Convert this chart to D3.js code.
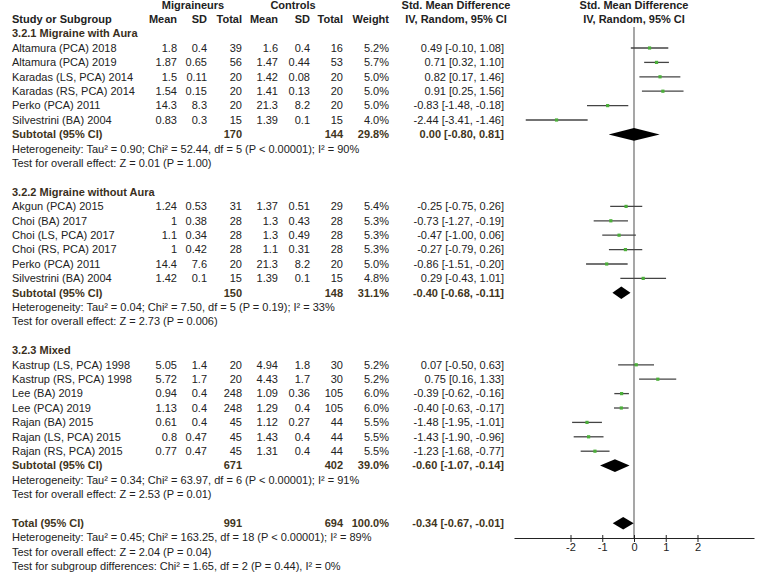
<!DOCTYPE html>
<html>
<head>
<meta charset="utf-8">
<script src="https://cdn.jsdelivr.net/npm/d3@7"></script>
<style>
html,body{margin:0;padding:0;background:#fff;}
svg text{font-family:"Liberation Sans",Arial,sans-serif;font-size:11px;fill:#222;}
</style>
</head>
<body>
<svg id="chart" width="760" height="575"></svg>
<script>
// ---------- DATA ----------
const studyNames = [
  "Altamura (PCA) 2018","Altamura (PCA) 2019","Karadas (LS, PCA) 2014","Karadas (RS, PCA) 2014","Perko (PCA) 2011","Silvestrini (BA) 2004",
  "Akgun (PCA) 2015","Choi (BA) 2017","Choi (LS, PCA) 2017","Choi (RS, PCA) 2017","Perko (PCA) 2011","Silvestrini (BA) 2004",
  "Kastrup (LS, PCA) 1998","Kastrup (RS, PCA) 1998","Lee (BA) 2019","Lee (PCA) 2019","Rajan (BA) 2015","Rajan (LS, PCA) 2015","Rajan (RS, PCA) 2015"
];
const studyGroup = [0,0,0,0,0,0, 1,1,1,1,1,1, 2,2,2,2,2,2,2];
const migMean = ["1.8","1.87","1.5","1.54","14.3","0.83", "1.24","1","1.1","1","14.4","1.42", "5.05","5.72","0.94","1.13","0.61","0.8","0.77"];
const migSD   = ["0.4","0.65","0.11","0.15","8.3","0.3", "0.53","0.38","0.34","0.42","7.6","0.1", "1.4","1.7","0.4","0.4","0.4","0.47","0.47"];
const migN    = [39,56,20,20,20,15, 31,28,28,28,20,15, 20,20,248,248,45,45,45];
const conMean = ["1.6","1.47","1.42","1.41","21.3","1.39", "1.37","1.3","1.3","1.1","21.3","1.39", "4.94","4.43","1.09","1.29","1.12","1.43","1.31"];
const conSD   = ["0.4","0.44","0.08","0.13","8.2","0.1", "0.51","0.43","0.49","0.31","8.2","0.1", "1.8","1.7","0.36","0.4","0.27","0.4","0.4"];
const conN    = [16,53,20,20,20,15, 29,28,28,28,20,15, 30,30,105,105,44,44,44];
const weights = ["5.2%","5.7%","5.0%","5.0%","5.0%","4.0%", "5.4%","5.3%","5.3%","5.3%","5.0%","4.8%", "5.2%","5.2%","6.0%","6.0%","5.5%","5.5%","5.5%"];
const smd     = [0.49,0.71,0.82,0.91,-0.83,-2.44, -0.25,-0.73,-0.47,-0.27,-0.86,0.29, 0.07,0.75,-0.39,-0.40,-1.48,-1.43,-1.23];
const ciLow   = [-0.10,0.32,0.17,0.25,-1.48,-3.41, -0.75,-1.27,-1.00,-0.79,-1.51,-0.43, -0.50,0.16,-0.62,-0.63,-1.95,-1.90,-1.68];
const ciHigh  = [1.08,1.10,1.46,1.56,-0.18,-1.46, 0.26,-0.19,0.06,0.26,-0.20,1.01, 0.63,1.33,-0.16,-0.17,-1.01,-0.96,-0.77];

const groupNames   = ["3.2.1 Migraine with Aura","3.2.2 Migraine without Aura","3.2.3 Mixed"];
const groupMigN    = [170,150,671];
const groupConN    = [144,148,402];
const groupWeight  = ["29.8%","31.1%","39.0%"];
const groupSmd     = [0.00,-0.40,-0.60];
const groupLow     = [-0.80,-0.68,-1.07];
const groupHigh    = [0.81,-0.11,-0.14];
const groupHet     = [
  "Heterogeneity: Tau² = 0.90; Chi² = 52.44, df = 5 (P < 0.00001); I² = 90%",
  "Heterogeneity: Tau² = 0.04; Chi² = 7.50, df = 5 (P = 0.19); I² = 33%",
  "Heterogeneity: Tau² = 0.34; Chi² = 63.97, df = 6 (P < 0.00001); I² = 91%"
];
const groupTest    = [
  "Test for overall effect: Z = 0.01 (P = 1.00)",
  "Test for overall effect: Z = 2.73 (P = 0.006)",
  "Test for overall effect: Z = 2.53 (P = 0.01)"
];
const totalMigN = 991, totalConN = 694, totalWeight = "100.0%";
const totalSmd = -0.34, totalLow = -0.67, totalHigh = -0.01;
const totalLines = [
  "Heterogeneity: Tau² = 0.45; Chi² = 163.25, df = 18 (P < 0.00001); I² = 89%",
  "Test for overall effect: Z = 2.04 (P = 0.04)",
  "Test for subgroup differences: Chi² = 1.65, df = 2 (P = 0.44), I² = 0%"
];
const tickValues = [-2,-1,0,1,2];

// ---------- LAYOUT ----------
const svg = d3.select("#chart");
const fmt = v => d3.format(".2f")(v).replace("\u2212", "-");
const ciText = (m,l,h) => `${fmt(m)} [${fmt(l)}, ${fmt(h)}]`;

const rowY = d3.scaleLinear().domain([0,1]).range([48, 62.4]); // row index -> y
const x = d3.scaleLinear().domain([-3.78, 3.78]).range([514, 754]);
const axisY = 538;

const col = {name:12, mMean:177, mSD:207, mN:242, cMean:278, cSD:310, cN:343, w:389, ci:504};
const subColor = "#3f3520";
const hdrColor = "#3a2f1c";

function txt(xp, yp, s, opts={}) {
  const t = svg.append("text").attr("x", xp).attr("y", yp).attr("dy","0.35em").text(s);
  if (opts.anchor) t.attr("text-anchor", opts.anchor);
  if (opts.bold) t.style("font-weight","bold");
  if (opts.fill) t.style("fill", opts.fill);
  return t;
}

// Headers
txt(193, rowY(-3), "Migraineurs", {anchor:"middle", bold:true});
txt(293, rowY(-3), "Controls", {anchor:"middle", bold:true});
txt(456, rowY(-3), "Std. Mean Difference", {anchor:"middle", bold:true});
txt(x(0), rowY(-3), "Std. Mean Difference", {anchor:"middle", bold:true});
txt(col.name, rowY(-2), "Study or Subgroup", {bold:true});
[["Mean",col.mMean],["SD",col.mSD],["Total",col.mN],["Mean",col.cMean],["SD",col.cSD],["Total",col.cN],["Weight",col.w]]
  .forEach(([s,xp]) => txt(xp, rowY(-2), s, {anchor:"end", bold:true}));
txt(456, rowY(-2), "IV, Random, 95% CI", {anchor:"middle", bold:true});
txt(x(0), rowY(-2), "IV, Random, 95% CI", {anchor:"middle", bold:true});

// zero line
svg.append("line").attr("x1", x(0)).attr("x2", x(0)).attr("y1", 27).attr("y2", axisY)
  .attr("stroke", "#777").attr("stroke-width", 1.3);

function drawDiamond(m, l, h, y) {
  const pts = [[x(l), y], [x(m), y-6.3], [x(h), y], [x(m), y+6.3]];
  svg.append("path").attr("d", d3.line()(pts) + "Z").attr("fill", "#000");
}

// groups
const groupStart = [-1, 10, 21];
groupNames.forEach((g, gi) => {
  const r0 = groupStart[gi];
  txt(col.name, rowY(r0), g, {bold:true, fill:hdrColor});
  const idx = studyGroup.map((v,i)=>v===gi?i:-1).filter(i=>i>=0);
  idx.forEach((i, k) => {
    const y = rowY(r0 + 1 + k);
    txt(col.name, y, studyNames[i]);
    txt(col.mMean, y, migMean[i], {anchor:"end"});
    txt(col.mSD, y, migSD[i], {anchor:"end"});
    txt(col.mN, y, migN[i], {anchor:"end"});
    txt(col.cMean, y, conMean[i], {anchor:"end"});
    txt(col.cSD, y, conSD[i], {anchor:"end"});
    txt(col.cN, y, conN[i], {anchor:"end"});
    txt(col.w, y, weights[i], {anchor:"end"});
    txt(col.ci, y, ciText(smd[i], ciLow[i], ciHigh[i]), {anchor:"end"});
    svg.append("line").attr("x1", x(ciLow[i])).attr("x2", x(ciHigh[i])).attr("y1", y).attr("y2", y)
      .attr("stroke", "#444").attr("stroke-width", 1.3);
    svg.append("rect").attr("x", x(smd[i]) - 1.6).attr("y", y - 1.6).attr("width", 3.2).attr("height", 3.2)
      .attr("fill", "#4caf3a");
  });
  const rs = r0 + 1 + idx.length;
  const ys = rowY(rs);
  txt(col.name, ys, "Subtotal (95% CI)", {bold:true, fill:subColor});
  txt(col.mN, ys, groupMigN[gi], {anchor:"end", bold:true, fill:subColor});
  txt(col.cN, ys, groupConN[gi], {anchor:"end", bold:true, fill:subColor});
  txt(col.w, ys, groupWeight[gi], {anchor:"end", bold:true, fill:subColor});
  txt(col.ci, ys, ciText(groupSmd[gi], groupLow[gi], groupHigh[gi]), {anchor:"end", bold:true, fill:subColor});
  drawDiamond(groupSmd[gi], groupLow[gi], groupHigh[gi], ys);
  txt(col.name, rowY(rs+1), groupHet[gi]);
  txt(col.name, rowY(rs+2), groupTest[gi]);
});

// total
const yt = rowY(33);
txt(col.name, yt, "Total (95% CI)", {bold:true, fill:subColor});
txt(col.mN, yt, totalMigN, {anchor:"end", bold:true, fill:subColor});
txt(col.cN, yt, totalConN, {anchor:"end", bold:true, fill:subColor});
txt(col.w, yt, totalWeight, {anchor:"end", bold:true, fill:subColor});
txt(col.ci, yt, ciText(totalSmd, totalLow, totalHigh), {anchor:"end", bold:true, fill:subColor});
drawDiamond(totalSmd, totalLow, totalHigh, yt);
totalLines.forEach((s,k) => txt(col.name, rowY(34+k), s));

// axis
const axis = d3.axisBottom(x).tickValues(tickValues).tickSize(4).tickSizeOuter(0)
  .tickFormat(d => String(d));
const ag = svg.append("g").attr("transform", `translate(0,${axisY})`).call(axis);
ag.select(".domain").attr("stroke", "#222").attr("stroke-width", 1.2);
ag.selectAll(".tick line").attr("stroke", "#222").attr("y1", -3).attr("y2", 4);
ag.selectAll(".tick text").attr("y", 5).style("font-size", "11px").style("fill", "#222")
  .style("font-family", '"Liberation Sans", Arial, sans-serif');
</script>
</body>
</html>
